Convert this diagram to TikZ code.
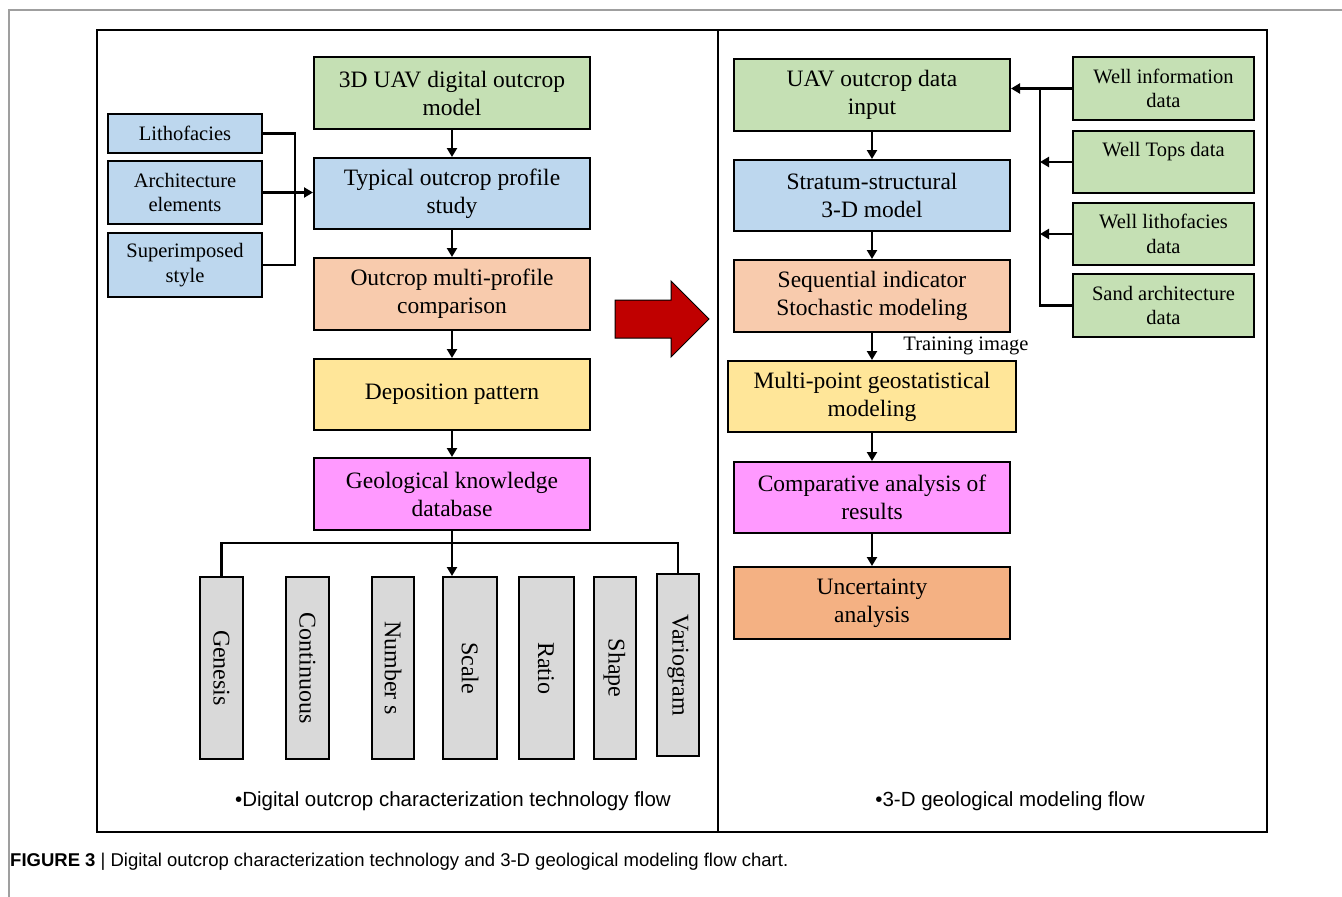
\documentclass[tikz,border=0pt]{standalone}
\usepackage{fontspec}
\setmainfont{Liberation Serif}
\newfontfamily\capfont{Liberation Sans}
\usetikzlibrary{arrows.meta}
\definecolor{cgreen}{HTML}{C5E0B4}
\definecolor{cblue}{HTML}{BDD7EE}
\definecolor{cpeach}{HTML}{F8CBAD}
\definecolor{cyellow}{HTML}{FFE699}
\definecolor{cpink}{HTML}{FF99FF}
\definecolor{corange}{HTML}{F4B183}
\definecolor{cgray}{HTML}{D9D9D9}
\definecolor{cred}{HTML}{C00000}
\tikzset{
  bx/.style={draw=black, line width=2pt, align=center, inner sep=0pt,
    font=\fontsize{23.5}{28}\selectfont},
  sbx/.style={draw=black, line width=2pt, align=center, inner sep=0pt,
    font=\fontsize{20.5}{24.5}\selectfont},
  vbx/.style={draw=black, line width=2pt, inner sep=0pt, fill=cgray,
    minimum height=182pt, font=\fontsize{24}{28}\selectfont},
  ln/.style={line width=2.1pt},
  arr/.style={line width=2.1pt, -{Triangle[length=9pt,width=10pt]}},
  flowcap/.style={font=\capfont\fontsize{20.5}{24}\selectfont},
}
\begin{document}
\begin{tikzpicture}[x=1pt,y=-1pt]
\useasboundingbox (0,0) rectangle (1342,897);
% page frame lines
\draw[gray!75, line width=1.2pt] (9,897) -- (9,10) -- (1342,10);
% outer frame and divider
\draw[line width=2pt] (97,30) rectangle (1267,832);
\draw[line width=2pt] (718,30) -- (718,832);

% ---------- left flow ----------
\node[bx, fill=cgreen, minimum width=276pt, minimum height=72pt] (m1) at (452,93) {3D UAV digital outcrop\\model};
\node[bx, fill=cblue, minimum width=276pt, minimum height=71pt] (m2) at (452,193.5) {Typical outcrop profile\\study};
\node[bx, fill=cpeach, minimum width=276pt, minimum height=72pt] (m3) at (452,294) {Outcrop multi-profile\\comparison};
\node[bx, fill=cyellow, minimum width=276pt, minimum height=71pt] (m4) at (452,394.5) {Deposition pattern};
\node[bx, fill=cpink, minimum width=276pt, minimum height=72pt] (m5) at (452,494) {Geological knowledge\\database};

\node[sbx, fill=cblue, minimum width=154pt, minimum height=39pt] (litho) at (185,133.5) {Lithofacies};
\node[sbx, fill=cblue, minimum width=154pt, minimum height=63pt] (arch) at (185,192.5) {Architecture\\elements};
\node[sbx, fill=cblue, minimum width=154pt, minimum height=64pt] (sup) at (185,265) {Superimposed\\style};

\coordinate (busL) at (295,193);
\draw[ln] (litho.east) -| (busL) |- (sup.east);
\draw[arr] (arch.east) -- (arch.east -| m2.west);
\draw[arr] (m1) -- (m2);
\draw[arr] (m2) -- (m3);
\draw[arr] (m3) -- (m4);
\draw[arr] (m4) -- (m5);

% vertical attribute boxes
\node[vbx, minimum width=43pt] (gen) at (221.5,668) {\rotatebox{-90}{Genesis}};
\node[vbx, minimum width=43pt] (con) at (307.5,668) {\rotatebox{-90}{Continuous}};
\node[vbx, minimum width=42pt] (num) at (393,668) {\rotatebox{-90}{Number s}};
\node[vbx, minimum width=54pt] (sca) at (470,668) {\rotatebox{-90}{Scale}};
\node[vbx, minimum width=55pt] (rat) at (546,668) {\rotatebox{-90}{Ratio}};
\node[vbx, minimum width=42pt] (sha) at (614.5,668) {\rotatebox{-90}{Shape}};
\node[vbx, minimum width=42pt] (var) at (678,665) {\rotatebox{-90}{Variogram}};

\coordinate (busB) at (452,543);
\draw[ln] (gen.north) |- (busB) -| (var.north);
\draw[arr] (m5.south) -- (m5.south |- sca.north);

\node[flowcap] (capL) at (453,801) {\textbullet Digital outcrop characterization technology flow};

% ---------- red arrow ----------
\draw[fill=cred, line width=1pt] (615,300) -- (671,300) -- (671,281) -- (709,319) -- (671,357) -- (671,338) -- (615,338) -- cycle;

% ---------- right flow ----------
\node[bx, fill=cgreen, minimum width=276pt, minimum height=72pt] (r1) at (872,95) {UAV outcrop data\\input};
\node[bx, fill=cblue, minimum width=276pt, minimum height=71pt] (r2) at (872,195.5) {Stratum-structural\\3-D model};
\node[bx, fill=cpeach, minimum width=276pt, minimum height=72pt] (r3) at (872,296) {Sequential indicator\\Stochastic modeling};
\node[bx, fill=cyellow, minimum width=288pt, minimum height=71pt] (r4) at (872,396.5) {Multi-point geostatistical\\modeling};
\node[bx, fill=cpink, minimum width=276pt, minimum height=71pt] (r5) at (872,497.5) {Comparative analysis of\\results};
\node[bx, fill=corange, minimum width=276pt, minimum height=72pt] (r6) at (872,603) {Uncertainty\\analysis};

\draw[arr] (r1) -- (r2);
\draw[arr] (r2) -- (r3);
\draw[arr] (r3) -- (r4);
\draw[arr] (r4) -- (r5);
\draw[arr] (r5) -- (r6);
\node[font=\fontsize{20.5}{24}\selectfont] (train) at (966,346) {Training image};

\node[sbx, fill=cgreen, minimum width=181pt, minimum height=63pt] (wi) at (1163.5,88.5) {Well information\\data};
\node[sbx, fill=cgreen, minimum width=181pt, minimum height=62pt] (wt) at (1163.5,162) {Well Tops data\\\mbox{}};
\node[sbx, fill=cgreen, minimum width=181pt, minimum height=62pt] (wl) at (1163.5,234) {Well lithofacies\\data};
\node[sbx, fill=cgreen, minimum width=181pt, minimum height=63pt] (sa) at (1163.5,305.5) {Sand architecture\\data};

\coordinate (busR) at (1040,200);
\draw[arr] (wi.west) -- (wi.west -| r1.east);
\draw[ln] (sa.west) -| (busR |- wi.west);
\draw[arr] (wt.west) -- (wt.west -| busR);
\draw[arr] (wl.west) -- (wl.west -| busR);

\node[flowcap] (capR) at (1010,801) {\textbullet 3-D geological modeling flow};

% ---------- figure caption ----------
\node[font=\capfont\fontsize{18.5}{22}\selectfont, anchor=west, inner sep=0pt] (figcap) at (10,862) {\textbf{FIGURE 3} | Digital outcrop characterization technology and 3-D geological modeling flow chart.};
\end{tikzpicture}
\end{document}
